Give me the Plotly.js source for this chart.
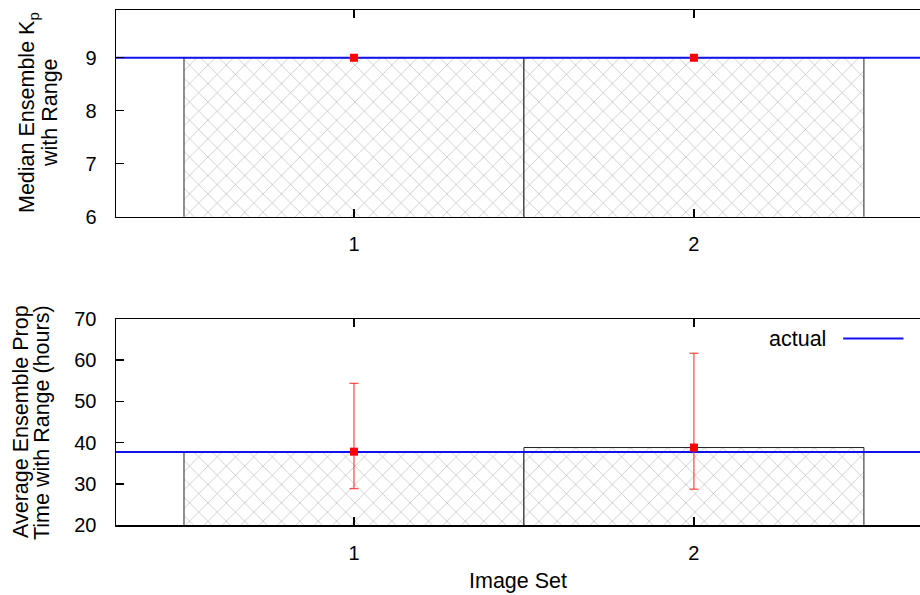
<!DOCTYPE html>
<html>
<head>
<meta charset="utf-8">
<script src="https://cdn.plot.ly/plotly-3.0.1.min.js"></script>
<style>html,body{margin:0;padding:0;background:#fff;}#chart{width:920px;height:595px;}</style>
</head>
<body>
<div id="chart"></div>
<script>
// Data
const imageSets = [1, 2];
const xTickLabels = ['1', '2'];
const medianKp = [9, 9];
const kpLow = [9, 9];
const kpHigh = [9, 9];
const actualKp = 9;
const avgPropTime = [37.8, 38.8];
const propLow = [28.8, 28.7];
const propHigh = [54.4, 61.7];
const actualPropTime = 37.7;
const xRange = [0.3, 2.665];
const topTitleLines = ['Median Ensemble K<sub>p</sub>', 'with Range'];
const bottomTitleLines = ['Average Ensemble Prop', 'Time with Range (hours)'];

const font = 'Liberation Sans, Arial, Helvetica, sans-serif';
const pattern = {shape: 'x', fgcolor: '#999999', bgcolor: 'white', size: 13, solidity: 0.07};
const tickFont = {family: font, size: 20, color: '#000'};
const titleFont = {family: font, size: 21.5, color: '#000'};

const traces = [
  {type: 'bar', x: imageSets, y: medianKp, width: 1, xaxis: 'x', yaxis: 'y',
   marker: {color: 'white', pattern: pattern, line: {color: '#222', width: 1}},
   showlegend: false, hoverinfo: 'skip'},
  {type: 'scatter', mode: 'lines', x: xRange, y: [actualKp, actualKp], xaxis: 'x', yaxis: 'y',
   line: {color: '#1010f0', width: 2}, showlegend: false},
  {type: 'scatter', mode: 'markers', x: imageSets, y: medianKp, xaxis: 'x', yaxis: 'y',
   marker: {symbol: 'square', color: '#ff0000', size: 8},
   error_y: {type: 'data', symmetric: false,
     array: kpHigh.map((h, i) => h - medianKp[i]),
     arrayminus: kpLow.map((l, i) => medianKp[i] - l),
     color: '#ff2020', thickness: 1, width: 4.5},
   showlegend: false},

  {type: 'bar', x: imageSets, y: avgPropTime, width: 1, xaxis: 'x2', yaxis: 'y2',
   marker: {color: 'white', pattern: pattern, line: {color: '#222', width: 1}},
   showlegend: false, hoverinfo: 'skip'},
  {type: 'scatter', mode: 'lines', x: xRange, y: [actualPropTime, actualPropTime], xaxis: 'x2', yaxis: 'y2',
   line: {color: '#1010f0', width: 2}, name: 'actual', showlegend: false},
  {type: 'scatter', mode: 'markers', x: imageSets, y: avgPropTime, xaxis: 'x2', yaxis: 'y2',
   marker: {symbol: 'square', color: '#ff0000', size: 8},
   error_y: {type: 'data', symmetric: false,
     array: propHigh.map((h, i) => h - avgPropTime[i]),
     arrayminus: propLow.map((l, i) => avgPropTime[i] - l),
     color: '#ff2020', thickness: 1, width: 4.5},
   showlegend: false}
];

const xCommon = {
  range: xRange, tickvals: imageSets, ticktext: xTickLabels,
  showline: true, linecolor: '#000', linewidth: 1.5, mirror: 'ticks',
  ticks: 'inside', ticklen: 8, tickcolor: '#000', tickwidth: 1.5,
  showgrid: false, zeroline: false, ticklabelstandoff: 9,
  tickfont: tickFont
};
const yCommon = {
  showline: true, linecolor: '#000', linewidth: 1.5,
  ticks: 'inside', ticklen: 8, tickcolor: '#000', tickwidth: 1.5,
  showgrid: false, zeroline: false, ticklabelstandoff: 14,
  tickfont: tickFont
};

function px2x(px) { return (px - 116) / 804; }
function py2y(py) { return (525 - py) / 515; }

const titleAnn = (text, px, py) => ({
  xref: 'paper', yref: 'paper', x: px2x(px), y: py2y(py), xanchor: 'center', yanchor: 'middle',
  text: text, textangle: -90, showarrow: false, font: titleFont
});

const layout = {
  width: 920, height: 595,
  margin: {l: 116, r: 0, t: 10, b: 70},
  paper_bgcolor: 'white', plot_bgcolor: 'white',
  font: {family: font, size: 20, color: '#000'},
  showlegend: false,
  xaxis: Object.assign({}, xCommon, {anchor: 'y', domain: [0, 1]}),
  yaxis: Object.assign({}, yCommon, {anchor: 'x', domain: [0.5986, 1], range: [6, 9.9], tickvals: [6, 7, 8, 9]}),
  xaxis2: Object.assign({}, xCommon, {anchor: 'y2', domain: [0, 1],
    title: {text: 'Image Set', font: titleFont, standoff: 10}}),
  yaxis2: Object.assign({}, yCommon, {anchor: 'x2', domain: [0, 0.4], range: [20, 70], tickvals: [20, 30, 40, 50, 60, 70]}),
  annotations: [
    titleAnn(topTitleLines[0], 29, 113),
    titleAnn(topTitleLines[1], 50, 113),
    titleAnn(bottomTitleLines[0], 21, 422),
    titleAnn(bottomTitleLines[1], 42, 423),
    {xref: 'paper', yref: 'paper', x: 0.886, y: 0.362, xanchor: 'right', yanchor: 'middle',
     text: 'actual', showarrow: false, font: titleFont}
  ],
  shapes: [
    {type: 'line', xref: 'paper', yref: 'paper', x0: 0.9045, x1: 0.9795, y0: 0.362, y1: 0.362,
     line: {color: '#1010f0', width: 2}}
  ]
};

Plotly.newPlot('chart', traces, layout, {staticPlot: true, displayModeBar: false});
</script>
</body>
</html>
